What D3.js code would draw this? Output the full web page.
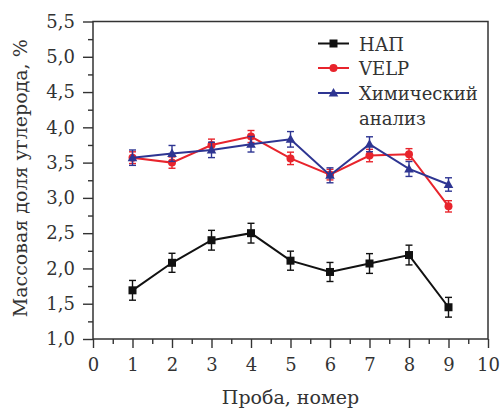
<!DOCTYPE html>
<html>
<head>
<meta charset="utf-8">
<script src="https://cdn.jsdelivr.net/npm/d3@7/dist/d3.min.js"></script>
<style>
  html, body { margin: 0; padding: 0; background: #fff; }
  svg text { font-family: "DejaVu Serif", serif; fill: #333; }
</style>
</head>
<body>
<svg id="chart" width="500" height="411"></svg>
<script>
// Sample numbers
const samples = [1, 2, 3, 4, 5, 6, 7, 8, 9];

// Carbon mass fraction, % — per method, with error half-widths
const napValues   = [1.69, 2.08, 2.40, 2.50, 2.11, 1.95, 2.07, 2.19, 1.45];
const napErrors   = [0.14, 0.135, 0.14, 0.14, 0.135, 0.135, 0.14, 0.14, 0.14];
const velpValues  = [3.57, 3.50, 3.75, 3.87, 3.56, 3.33, 3.60, 3.62, 2.88];
const velpErrors  = [0.083, 0.08, 0.083, 0.085, 0.088, 0.075, 0.088, 0.078, 0.08];
const chemValues  = [3.57, 3.63, 3.68, 3.76, 3.83, 3.32, 3.76, 3.41, 3.19];
const chemErrors  = [0.109, 0.113, 0.109, 0.11, 0.11, 0.106, 0.106, 0.106, 0.095];

const seriesNames = ["НАП", "VELP", "Химический анализ"];
const xTicks = [0, 1, 2, 3, 4, 5, 6, 7, 8, 9, 10];
const yTicks = [1.0, 1.5, 2.0, 2.5, 3.0, 3.5, 4.0, 4.5, 5.0, 5.5];
const xTitle = "Проба, номер";
const yTitle = "Массовая доля углерода, %";

const series = [
  { name: seriesNames[0], values: napValues,  errors: napErrors,  color: "#111111", marker: "square" },
  { name: seriesNames[1], values: velpValues, errors: velpErrors, color: "#e8242c", marker: "circle" },
  { name: seriesNames[2], values: chemValues, errors: chemErrors, color: "#2e3592", marker: "triangle" }
];

const svg = d3.select("#chart");
const plot = { left: 93, right: 488, top: 21.5, bottom: 339 };

const x = d3.scaleLinear().domain([0, 10]).range([plot.left, plot.right]);
const y = d3.scaleLinear().domain([1, 5.5]).range([plot.bottom, plot.top]);

const fmt = d => d3.format(".1f")(d).replace(".", ",");

// Bottom axis: major ticks at integers, minor at halves
const xMinor = d3.range(0.5, 10, 1);
const xAxisG = svg.append("g").attr("transform", `translate(0,${plot.bottom})`);
xAxisG.call(d3.axisBottom(x).tickValues(xTicks).tickSize(9).tickPadding(10).tickFormat(d3.format("d")));
xAxisG.append("g").call(d3.axisBottom(x).tickValues(xMinor).tickSize(5).tickFormat(""));

// Left axis: major ticks every 0.5, minor every 0.25
const yMinor = d3.range(1.25, 5.5, 0.5);
const yAxisG = svg.append("g").attr("transform", `translate(${plot.left},0)`);
yAxisG.call(d3.axisLeft(y).tickValues(yTicks).tickSize(10).tickPadding(8).tickFormat(fmt));
yAxisG.append("g").call(d3.axisLeft(y).tickValues(yMinor).tickSize(5).tickFormat(""));

svg.selectAll(".domain").remove();
svg.selectAll(".tick line").attr("stroke", "#333").attr("stroke-width", 1.4);
svg.selectAll(".tick text")
  .attr("fill", "#333")
  .style("font-family", "'DejaVu Serif', serif")
  .style("font-size", "18px");

// Frame around the plotting area
svg.append("rect")
  .attr("x", plot.left).attr("y", plot.top)
  .attr("width", plot.right - plot.left).attr("height", plot.bottom - plot.top)
  .attr("fill", "none").attr("stroke", "#333").attr("stroke-width", 1.5);

// Axis titles
svg.append("text")
  .attr("x", (plot.left + plot.right) / 2).attr("y", 404)
  .attr("text-anchor", "middle")
  .style("font-size", "19px")
  .text(xTitle);

svg.append("text")
  .attr("transform", `translate(27,${(plot.top + plot.bottom) / 2 - 2}) rotate(-90)`)
  .attr("text-anchor", "middle")
  .style("font-size", "19px")
  .text(yTitle);

// Marker drawing helper
function drawMarker(g, type, cx, cy, color) {
  if (type === "square") {
    g.append("rect").attr("x", cx - 4).attr("y", cy - 4).attr("width", 8).attr("height", 8).attr("fill", color);
  } else if (type === "circle") {
    g.append("circle").attr("cx", cx).attr("cy", cy).attr("r", 4).attr("fill", color);
  } else {
    g.append("path")
      .attr("d", `M${cx},${cy - 5}L${cx + 4.8},${cy + 3.5}L${cx - 4.8},${cy + 3.5}Z`)
      .attr("fill", color);
  }
}

const line = d3.line().x(d => x(d.s)).y(d => y(d.v));

series.forEach(s => {
  const pts = samples.map((n, i) => ({ s: n, v: s.values[i], e: s.errors[i] }));
  const g = svg.append("g");

  // Error bars
  pts.forEach(p => {
    const cx = x(p.s), y1 = y(p.v + p.e), y2 = y(p.v - p.e);
    g.append("line").attr("x1", cx).attr("x2", cx).attr("y1", y1).attr("y2", y2)
      .attr("stroke", s.color).attr("stroke-width", 1.4);
    [y1, y2].forEach(yy => g.append("line")
      .attr("x1", cx - 3.5).attr("x2", cx + 3.5).attr("y1", yy).attr("y2", yy)
      .attr("stroke", s.color).attr("stroke-width", 1.4));
  });

  g.append("path").datum(pts).attr("d", line)
    .attr("fill", "none").attr("stroke", s.color).attr("stroke-width", 2);

  pts.forEach(p => drawMarker(g, s.marker, x(p.s), y(p.v), s.color));
});

// Legend
const legend = svg.append("g");
const legendRows = [
  { s: series[0], y: 43.5, lines: [seriesNames[0]] },
  { s: series[1], y: 68, lines: [seriesNames[1]] },
  { s: series[2], y: 93, lines: seriesNames[2].split(" ") }
];
legendRows.forEach(r => {
  legend.append("line").attr("x1", 318).attr("x2", 349).attr("y1", r.y).attr("y2", r.y)
    .attr("stroke", r.s.color).attr("stroke-width", 2);
  drawMarker(legend, r.s.marker, 333.5, r.y, r.s.color);
  r.lines.forEach((t, k) => {
    legend.append("text")
      .attr("x", 359).attr("y", r.y + 7 + k * 25)
      .style("font-size", "18px")
      .text(t);
  });
});
</script>
</body>
</html>
